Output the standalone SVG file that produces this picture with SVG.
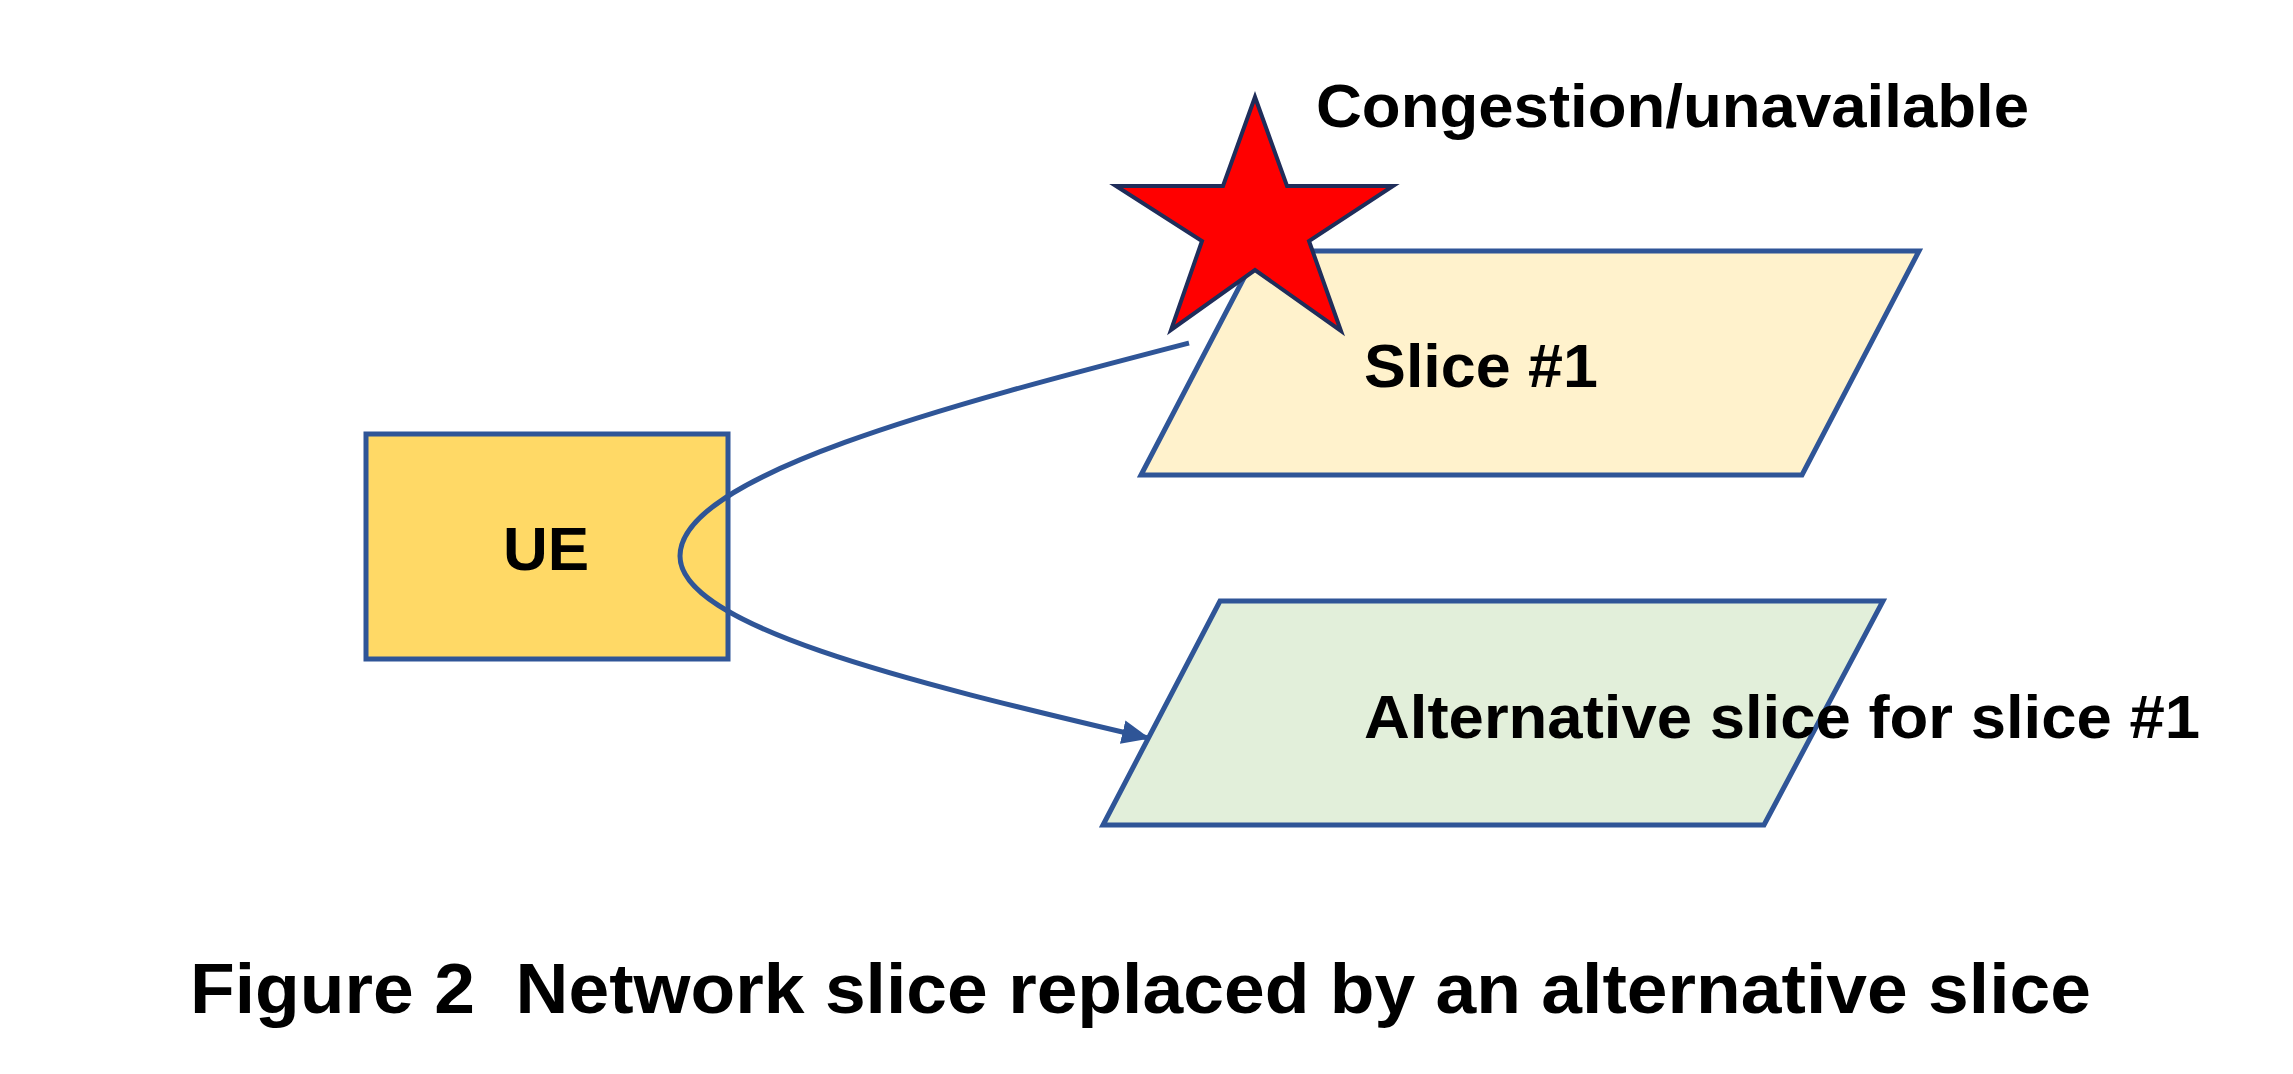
<svg xmlns="http://www.w3.org/2000/svg" width="2293" height="1074" viewBox="0 0 2293 1074">
<style>
.t{font-family:"Liberation Sans",Arial,sans-serif;font-weight:bold;fill:#000}
.s{stroke:#2F5597;stroke-width:5}
</style>
<defs><marker id="a2" markerWidth="28" markerHeight="24" refX="26" refY="12" orient="auto" markerUnits="userSpaceOnUse"><path d="M0,0 L28,12 L0,24 z" fill="#2F5597"/></marker></defs>
<rect width="2293" height="1074" fill="#fff"/>
<g id="ue"><rect x="366" y="434" width="362" height="225" fill="#FFD966" class="s"/><text class="t" x="546" y="570" font-size="62" text-anchor="middle">UE</text></g>
<g id="slice1"><polygon points="1258,251 1919,251 1802,475 1141,475" fill="#FFF2CC" class="s"/><text class="t" x="1364" y="387" font-size="62" textLength="234" lengthAdjust="spacingAndGlyphs">Slice #1</text></g>
<g id="alt"><polygon points="1220,601 1883,601 1764,825 1103,825" fill="#E2EFDA" class="s"/><text class="t" x="1364" y="738" font-size="62" textLength="836" lengthAdjust="spacingAndGlyphs">Alternative slice for slice #1</text></g>
<g id="star"><polygon points="1255,97 1287,186 1393,186 1309,241 1341,331 1255,270 1171,330 1202,241 1116,186 1223,186" fill="#FF0000" stroke="#1F2D5A" stroke-width="4"/></g>
<g id="connectors"><path d="M1189,343 C950,405 680,475 680,556 C680,625 900,680 1148,738" fill="none" class="s" marker-end="url(#a2)"/></g>
<text class="t" x="1316" y="127" font-size="62" textLength="713" lengthAdjust="spacingAndGlyphs">Congestion/unavailable</text>
<text class="t" x="190" y="1013" font-size="70" textLength="1901" lengthAdjust="spacingAndGlyphs" xml:space="preserve">Figure 2  Network slice replaced by an alternative slice</text>
</svg>
